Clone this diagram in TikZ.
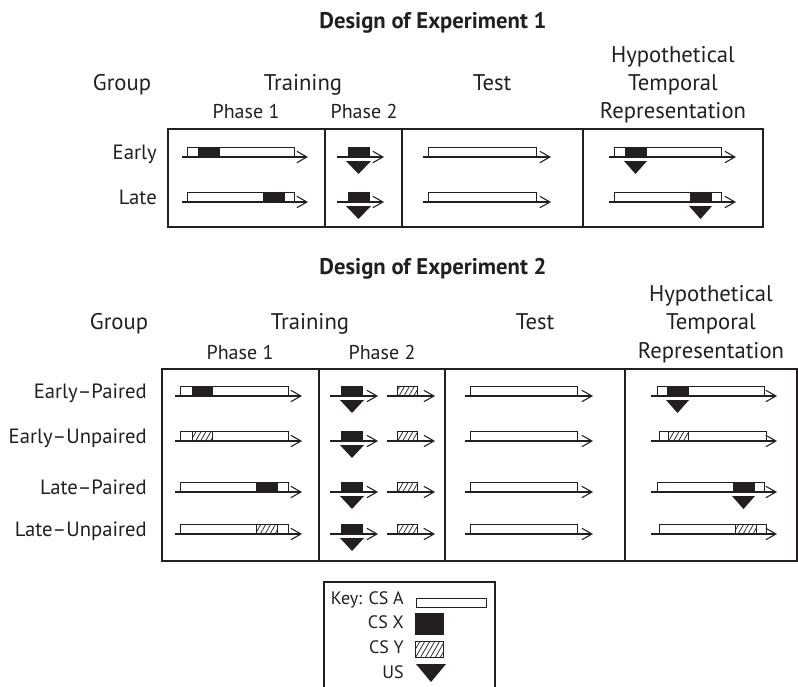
\documentclass[tikz,border=0pt]{standalone}
\usepackage{fontspec}
\setmainfont{PT Sans}
\usetikzlibrary{arrows.meta,patterns.meta}
\definecolor{ink}{HTML}{231F20}
\tikzset{
  frame/.style={draw=ink,line width=1.1pt},
  tl/.style={draw=ink,line width=0.8pt,-{Straight Barb[length=7.5pt,width=8.5pt,line width=0.8pt]}},
  barbox/.style={draw=ink,line width=0.7pt,fill=white},
  csx/.style={draw=ink,line width=0.7pt,fill=ink},
  csy/.style={draw=ink,line width=0.7pt,pattern={Lines[angle=60,distance=3.2pt,line width=0.55pt]},pattern color=ink},
  ustri/.style={fill=ink},
  ttl/.style={font=\fontsize{17}{20}\selectfont\bfseries,text=ink,anchor=base,inner sep=0pt},
  hdr/.style={font=\fontsize{17}{20}\selectfont,text=ink,anchor=base,inner sep=0pt},
  phs/.style={font=\fontsize{15}{18}\selectfont,text=ink,anchor=base,inner sep=0pt},
  rowl/.style={font=\fontsize{15.5}{18}\selectfont,text=ink,anchor=base east,inner sep=0pt},
  keyl/.style={font=\fontsize{13.5}{16}\selectfont,text=ink,anchor=base east,inner sep=0pt},
}
\newcommand{\barA}[3]{\draw[barbox] (#1,#3-10) rectangle (#2,#3);}
\newcommand{\blkX}[3]{\draw[csx] (#1,#3-10) rectangle (#2,#3);}
\newcommand{\blkY}[3]{\draw[csy] (#1,#3-10) rectangle (#2,#3);}
\newcommand{\usT}[3]{\fill[ustri] (#1,#3+4) -- (#2,#3+4) -- ({(#1+#2)/2},#3+17) -- cycle;}
\newcommand{\tarrow}[3]{\draw[tl] (#1,#3) -- (#2,#3);}
\begin{document}
\begin{tikzpicture}[x=0.75pt,y=-0.75pt]
\useasboundingbox[fill=white] (0,0) rectangle (798,686);

% ================= Experiment 1 =================
\node[ttl] (title1) at (433,28) {Design of Experiment 1};
\node[hdr] (hyp1) at (673,62) {Hypothetical};
\node[hdr] (temp1) at (673,90) {Temporal};
\node[hdr] (rep1) at (673,118) {Representation};
\node[hdr] (group1) at (122,90) {Group};
\node[hdr] (train1) at (303,90) {Training};
\node[hdr] (test1) at (492,90) {Test};
\node[phs] (ph1a) at (246,118) {Phase 1};
\node[phs] (ph1b) at (364,118) {Phase 2};
\node[rowl] (early) at (157,159) {Early};
\node[rowl] (late) at (157,204) {Late};

\draw[frame] (168,129) rectangle (763,227);
\draw[frame] (325,129) -- (325,227);
\draw[frame] (402,129) -- (402,227);
\draw[frame] (583,129) -- (583,227);

% Phase 1
\barA{187}{294}{157} \blkX{198}{219}{157} \tarrow{182}{308}{157}
\barA{187}{294}{202} \blkX{263}{284}{202} \tarrow{182}{308}{202}
% Phase 2
\blkX{348}{369}{157} \tarrow{337}{384}{157} \usT{346}{371}{157}
\blkX{348}{369}{202} \tarrow{337}{384}{202} \usT{346}{371}{202}
% Test
\barA{428}{536}{157} \tarrow{423}{551}{157}
\barA{428}{536}{202} \tarrow{423}{551}{202}
% Representation
\barA{614}{721}{157} \blkX{625}{646}{157} \tarrow{609}{736}{157} \usT{624}{647}{157}
\barA{614}{721}{202} \blkX{690}{711}{202} \tarrow{609}{736}{202} \usT{689}{712}{202}

% ================= Experiment 2 =================
\node[ttl] (title2) at (433,274) {Design of Experiment 2};
\node[hdr] (hyp2) at (711,301) {Hypothetical};
\node[hdr] (temp2) at (711,329) {Temporal};
\node[hdr] (rep2) at (711,358) {Representation};
\node[hdr] (group2) at (119,329) {Group};
\node[hdr] (train2) at (310,329) {Training};
\node[hdr] (test2) at (535,329) {Test};
\node[phs] (ph2a) at (240,359) {Phase 1};
\node[phs] (ph2b) at (382,359) {Phase 2};
\node[rowl] (ep) at (147,398) {Early–Paired};
\node[rowl] (eu) at (147,443) {Early–Unpaired};
\node[rowl] (lp) at (147,494) {Late–Paired};
\node[rowl] (lu) at (147,536) {Late–Unpaired};

\draw[frame] (162,369) rectangle (797,561);
\draw[frame] (319,369) -- (319,561);
\draw[frame] (445,369) -- (445,561);
\draw[frame] (625,369) -- (625,561);

% Phase 1
\barA{180}{288}{396} \blkX{192}{212}{396} \tarrow{175}{302}{396}
\barA{180}{288}{441} \blkY{192}{212}{441} \tarrow{175}{302}{441}
\barA{180}{288}{492} \blkX{256}{277}{492} \tarrow{175}{302}{492}
\barA{180}{288}{534} \blkY{256}{277}{534} \tarrow{175}{302}{534}
% Phase 2
\foreach \yy in {396,441,492,534}{
  \blkX{341}{362}{\yy} \tarrow{330}{378}{\yy} \usT{340}{364}{\yy}
  \blkY{397}{417}{\yy} \tarrow{387}{435}{\yy}
}
% Test
\foreach \yy in {396,441,492,534}{
  \barA{470}{577}{\yy} \tarrow{465}{593}{\yy}
}
% Representation
\barA{657}{764}{396} \blkX{667}{688}{396} \tarrow{651}{777}{396} \usT{666}{689}{396}
\barA{659}{766}{441} \blkY{668}{688}{441} \tarrow{651}{777}{441}
\barA{657}{764}{492} \blkX{733}{754}{492} \tarrow{651}{777}{492} \usT{732}{755}{492}
\barA{659}{766}{534} \blkY{735}{756}{534} \tarrow{651}{777}{534}

% ================= Key =================
\draw[frame] (324,690) -- (324,582) -- (495,582) -- (495,690);
\node[keyl] (keya) at (404,604) {Key: CS A};
\node[keyl] (keyx) at (404,628) {CS X};
\node[keyl] (keyy) at (404,653) {CS Y};
\node[keyl] (keyus) at (404,678) {US};
\draw[barbox] (416,598) rectangle (486,607);
\draw[csx] (415,613) rectangle (443,634);
\draw[csy] (415,641) rectangle (443,657);
\fill[ustri] (416,664) -- (446,664) -- (431,682) -- cycle;
\end{tikzpicture}
\end{document}
